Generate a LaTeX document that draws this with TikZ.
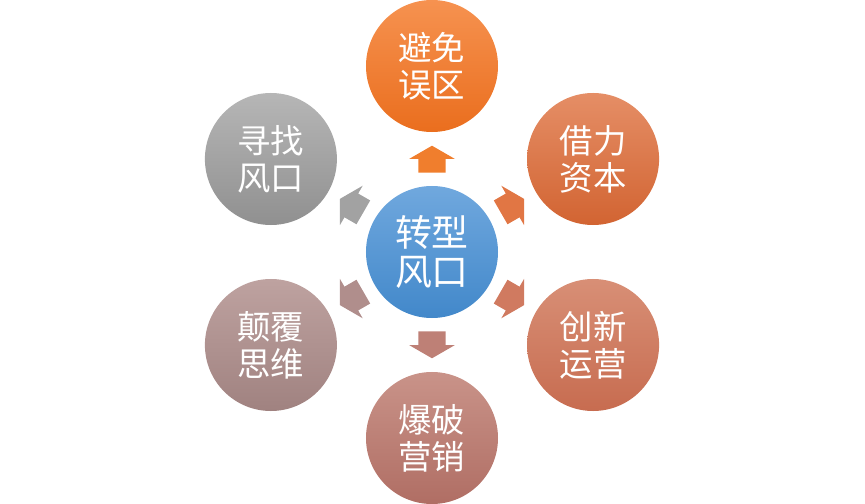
\documentclass[tikz,border=0pt]{standalone}
\usepackage{fontspec}
\newfontfamily\cjk{Noto Sans CJK SC}
\usepackage{tikz}
\usetikzlibrary{calc,shapes.arrows}
\definecolor{coretop}{RGB}{112,168,222}
\definecolor{corebot}{RGB}{ 66,136,202}
\definecolor{avoidtop}{RGB}{246,146, 80}
\definecolor{avoidbot}{RGB}{234,110, 30}
\definecolor{capitop}{RGB}{229,142,102}
\definecolor{capibot}{RGB}{210,100, 50}
\definecolor{innotop}{RGB}{216,143,118}
\definecolor{innobot}{RGB}{199,108, 80}
\definecolor{burstop}{RGB}{201,147,137}
\definecolor{bursbot}{RGB}{176,110,100}
\definecolor{thinktop}{RGB}{190,162,160}
\definecolor{thinkbot}{RGB}{160,130,128}
\definecolor{seektop}{RGB}{182,182,182}
\definecolor{seekbot}{RGB}{144,144,144}

\begin{document}
\begin{tikzpicture}[
    x=0.03cm,y=0.03cm,
    font=\cjk\fontsize{28.5}{31.6}\selectfont,
    petal/.style={circle,minimum size=3.96cm,inner sep=0pt,text=white,align=center},
    blockarrow/.style={single arrow,inner xsep=0pt,inner ysep=0.405cm,minimum height=0.81cm,
                       single arrow head extend=0.27cm,single arrow tip angle=120,anchor=tail},
]
\useasboundingbox (-432,-252) rectangle (433,252);

% --- hub ---
\node[petal,top color=coretop,bottom color=corebot,font=\cjk\fontsize{31.5}{34}\selectfont]
     (core) at (0,0) {转型\\风口};

% --- outer circles ---
\node[petal,top color=avoidtop,bottom color=avoidbot] (avoid) at (90:186)   {避免\\误区};
\node[petal,top color=capitop,bottom color=capibot]   (capi)  at (30:186)   {借力\\资本};
\node[petal,top color=innotop,bottom color=innobot]   (inno)  at (-30:186)  {创新\\运营};
\node[petal,top color=burstop,bottom color=bursbot]   (burst) at (-90:186)  {爆破\\营销};
\node[petal,top color=thinktop,bottom color=thinkbot] (think) at (-150:186) {颠覆\\思维};
\node[petal,top color=seektop,bottom color=seekbot]   (seek)  at (150:186)  {寻找\\风口};

% --- block arrows from hub ---
\node[blockarrow,rotate=90,fill={rgb,255:red,240;green,126;blue,45}]    (a1) at ($(core)!0.425!(avoid)$) {};
\node[blockarrow,rotate=30,fill={rgb,255:red,225;green,118;blue,68}]    (a2) at ($(core)!0.425!(capi)$)  {};
\node[blockarrow,rotate=-30,fill={rgb,255:red,208;green,122;blue,96}]   (a3) at ($(core)!0.425!(inno)$)  {};
\node[blockarrow,rotate=-90,fill={rgb,255:red,190;green,128;blue,118}]  (a4) at ($(core)!0.425!(burst)$) {};
\node[blockarrow,rotate=-150,fill={rgb,255:red,176;green,142;blue,140}] (a5) at ($(core)!0.425!(think)$) {};
\node[blockarrow,rotate=150,fill={rgb,255:red,162;green,162;blue,162}]  (a6) at ($(core)!0.425!(seek)$)  {};
\end{tikzpicture}
\end{document}
